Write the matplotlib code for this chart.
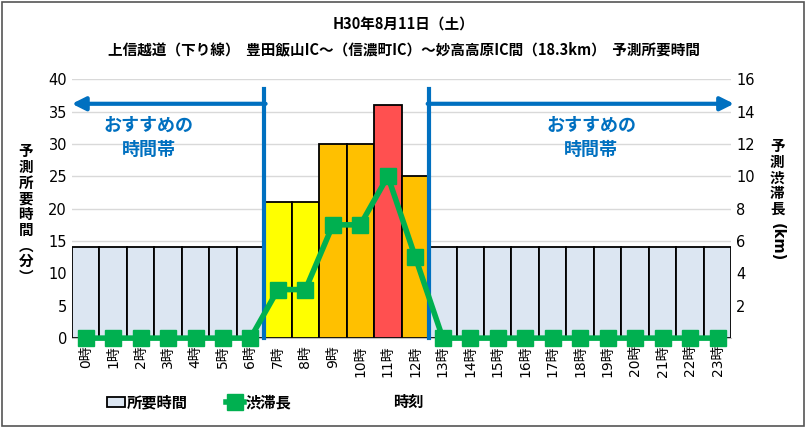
import matplotlib.pyplot as plt
from matplotlib.patches import Rectangle

plt.rcParams['font.family'] = ['Noto Sans CJK JP', 'DejaVu Sans']
NUMFONT = ['DejaVu Sans', 'Noto Sans CJK JP']

hours = [f"{h}時" for h in range(24)]
minutes = [14, 14, 14, 14, 14, 14, 14, 21, 21, 30, 30, 36, 25,
           14, 14, 14, 14, 14, 14, 14, 14, 14, 14, 14]
jam_km = [0, 0, 0, 0, 0, 0, 0, 3, 3, 7, 7, 10, 5,
          0, 0, 0, 0, 0, 0, 0, 0, 0, 0, 0]
bar_colors = (["#DCE6F2"] * 7 + ["#FFFF00"] * 2 + ["#FFC000"] * 2 + ["#FF5050"]
              + ["#FFC000"] + ["#DCE6F2"] * 11)

BLUE = "#0070C0"
GREEN = "#00B050"

fig = plt.figure(figsize=(8.08, 4.28), dpi=100)
fig.patches.append(Rectangle((0.003, 0.005), 0.992, 0.99, transform=fig.transFigure,
                             fill=False, edgecolor="#555555", linewidth=1.2))

ax = fig.add_axes([0.089, 0.210, 0.816, 0.605])
x = list(range(24))
bars = ax.bar(x, minutes, width=1.0, color=bar_colors, edgecolor="black",
              linewidth=1.3, label="所要時間", zorder=2)
ax.set_xlim(-0.5, 23.5)
ax.set_ylim(0, 40)
ax.set_yticks(range(0, 41, 5))
ax.yaxis.grid(True, color="#D9D9D9", linewidth=1, zorder=0)
ax.set_axisbelow(True)
ax.set_xticks(x)
ax.set_xticklabels(hours, rotation=90, fontsize=10, family=NUMFONT)
for t in ax.get_yticklabels():
    t.set_family(NUMFONT)
ax.tick_params(axis="y", length=0, labelsize=10.5)
ax.tick_params(axis="x", length=0, pad=5)
for s in ["top", "right", "left"]:
    ax.spines[s].set_visible(False)
ax.spines["bottom"].set_color("#BFBFBF")
fig.text(0.032, 0.50, "予\n測\n所\n要\n時\n間\n︵\n分\n︶", ha="center", va="center",
         fontsize=10.5, fontweight="bold", linespacing=0.98)

ax2 = ax.twinx()
line, = ax2.plot(x, jam_km, color=GREEN, linewidth=4, marker="s", markersize=11,
                 label="渋滞長", clip_on=False, zorder=5)
ax2.set_ylim(0, 16)
ax2.set_yticks(range(2, 17, 2))
for t in ax2.get_yticklabels():
    t.set_family(NUMFONT)
ax2.tick_params(axis="y", length=0, labelsize=10.5)
for s in ["top", "right", "left", "bottom"]:
    ax2.spines[s].set_visible(False)
fig.text(0.962, 0.585, "予\n測\n渋\n滞\n長", ha="center", va="center",
         fontsize=10.5, fontweight="bold", linespacing=0.98)
fig.text(0.962, 0.435, "(km)", ha="center", va="center", rotation=-90,
         fontsize=10.5, fontweight="bold", family=NUMFONT)

# recommended time bands
ax.plot([6.5, 6.5], [0, 38.5], color=BLUE, linewidth=3, zorder=6, clip_on=False)
ax.plot([12.5, 12.5], [0, 38.5], color=BLUE, linewidth=3, zorder=6, clip_on=False)
arrow = dict(arrowstyle="-|>", color=BLUE, lw=3, mutation_scale=20, shrinkA=0, shrinkB=0)
ax.annotate("", xy=(-0.5, 36.2), xytext=(6.55, 36.2), arrowprops=arrow,
            annotation_clip=False, zorder=6)
ax.annotate("", xy=(23.6, 36.2), xytext=(12.45, 36.2), arrowprops=arrow,
            annotation_clip=False, zorder=6)
ax.text(2.3, 31.0, "おすすめの\n時間帯", color=BLUE, fontsize=13, fontweight="bold",
        ha="center", va="center", linespacing=1.4)
ax.text(18.4, 31.0, "おすすめの\n時間帯", color=BLUE, fontsize=13, fontweight="bold",
        ha="center", va="center", linespacing=1.4)

fig.text(0.5, 0.945, "H30年8月11日（土）", ha="center", va="center",
         fontsize=10.5, fontweight="bold")
fig.text(0.5, 0.885, "上信越道（下り線）  豊田飯山IC～（信濃町IC）～妙高高原IC間（18.3km）  予測所要時間",
         ha="center", va="center", fontsize=10.5, fontweight="bold")

fig.legend([bars, line], ["所要時間", "渋滞長"], loc="center left",
           bbox_to_anchor=(0.115, 0.06), ncol=2, frameon=False,
           prop={"weight": "bold", "size": 11}, handlelength=1.2, columnspacing=2.5,
           handletextpad=0.1)
fig.text(0.505, 0.06, "時刻", ha="center", va="center", fontsize=11, fontweight="bold")

plt.savefig("out.png", dpi=100)
